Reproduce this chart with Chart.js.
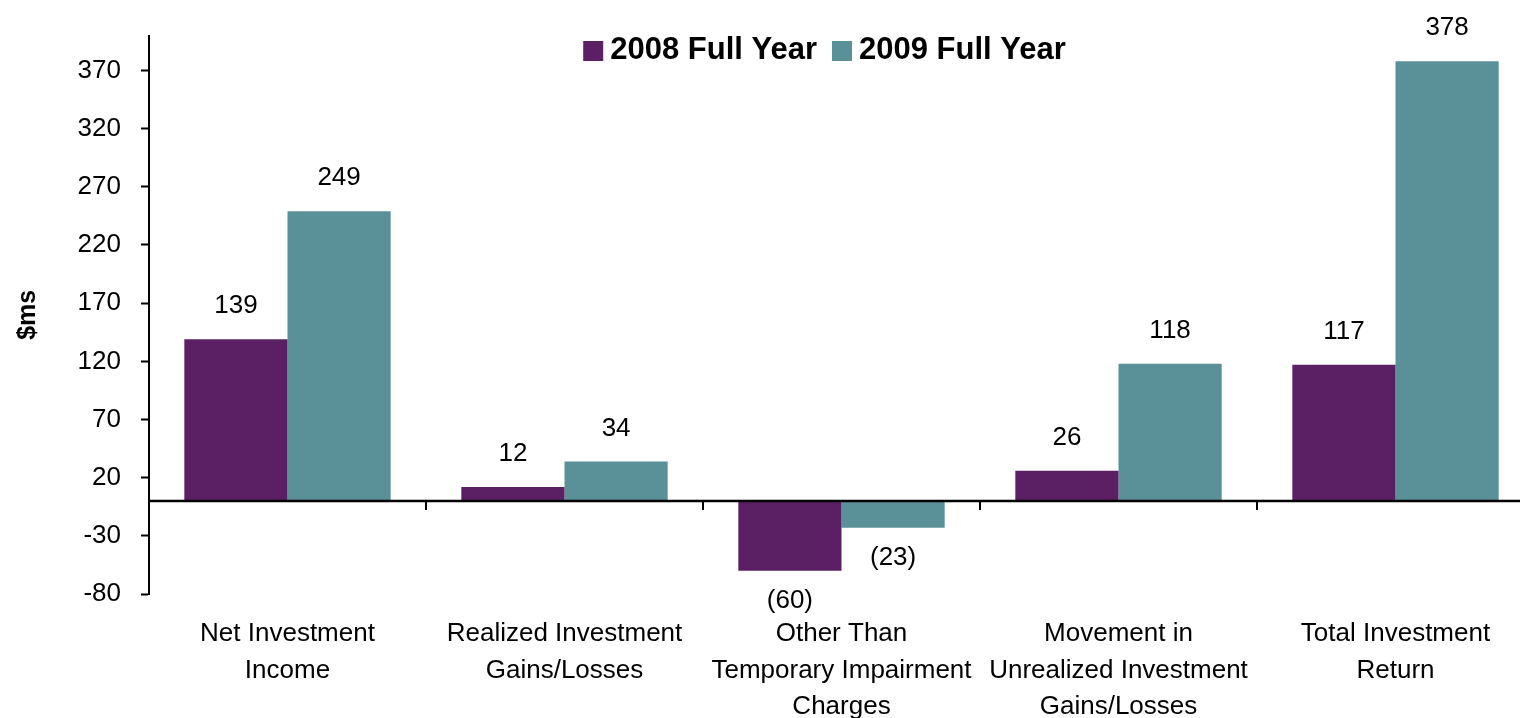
<!DOCTYPE html>
<html>
<head>
<meta charset="utf-8">
<script src="https://cdn.jsdelivr.net/npm/chart.js@4/dist/chart.umd.min.js"></script>
<style>
  html, body { margin: 0; padding: 0; background: #fff; overflow: hidden; }
  #wrap { position: absolute; left: 0; top: 0; width: 1540px; height: 724px; }
</style>
</head>
<body>
<div id="wrap"><canvas id="chart" width="1540" height="724"></canvas></div>
<script>
// chart data
const categories = [
  ["Net Investment", "Income"],
  ["Realized Investment", "Gains/Losses"],
  ["Other Than", "Temporary Impairment", "Charges"],
  ["Movement in", "Unrealized Investment", "Gains/Losses"],
  ["Total Investment", "Return"],
];
const seriesNames = ["2008 Full Year", "2009 Full Year"];
const values2008 = [139, 12, -60, 26, 117];
const values2009 = [249, 34, -23, 118, 378];
const yTicks = [-80, -30, 20, 70, 120, 170, 220, 270, 320, 370];

const PURPLE = "#5b1f64";
const TEAL = "#5a9199";
const FONT = "'Liberation Sans', Arial, sans-serif";

// zero line + category tick marks below it
const zeroAxis = {
  id: "zeroAxis",
  afterDatasetsDraw(chart) {
    const { ctx, chartArea, scales } = chart;
    const y0 = scales.y.getPixelForValue(0);
    ctx.save();
    ctx.strokeStyle = "#000";
    ctx.lineWidth = 2.5;
    ctx.beginPath();
    ctx.moveTo(chartArea.left, y0);
    ctx.lineTo(chart.width, y0);
    ctx.stroke();
    ctx.lineWidth = 2;
    for (let i = 0; i < categories.length - 1; i++) {
      const bx = (scales.x.getPixelForValue(i) + scales.x.getPixelForValue(i + 1)) / 2;
      ctx.beginPath();
      ctx.moveTo(bx, y0);
      ctx.lineTo(bx, y0 + 9);
      ctx.stroke();
    }
    ctx.restore();
  },
};

// value labels above / below the bars, negatives in brackets
const barValues = {
  id: "barValues",
  afterDatasetsDraw(chart) {
    const { ctx } = chart;
    ctx.save();
    ctx.font = "26px " + FONT;
    ctx.fillStyle = "#000";
    ctx.textAlign = "center";
    ctx.textBaseline = "middle";
    chart.data.datasets.forEach((ds, di) => {
      chart.getDatasetMeta(di).data.forEach((bar, i) => {
        const v = ds.data[i];
        const txt = v < 0 ? "(" + Math.abs(v) + ")" : String(v);
        const y = v < 0 ? bar.y + 30 : bar.y - 33;
        ctx.fillText(txt, bar.x, y);
      });
    });
    ctx.restore();
  },
};

// legend sitting inside the plot, near the top
const topLegend = {
  id: "topLegend",
  afterDraw(chart) {
    const { ctx, chartArea } = chart;
    ctx.save();
    ctx.font = "bold 31px " + FONT;
    const box = 20, gap = 7, between = 15;
    const items = chart.data.datasets.map(ds => ({
      text: ds.label, color: ds.backgroundColor, w: ctx.measureText(ds.label).width,
    }));
    const total = items.reduce((s, it) => s + box + gap + it.w, 0) + between * (items.length - 1);
    let x = (chartArea.left + chartArea.right) / 2 - 17 - total / 2;
    const base = 59;
    ctx.textBaseline = "alphabetic";
    items.forEach(it => {
      ctx.fillStyle = it.color;
      ctx.fillRect(x, base - 18, box, box);
      x += box + gap;
      ctx.fillStyle = "#000";
      ctx.fillText(it.text, x, base);
      x += it.w + between;
    });
    ctx.restore();
  },
};

new Chart(document.getElementById("chart"), {
  type: "bar",
  data: {
    labels: categories,
    datasets: [
      { label: seriesNames[0], data: values2008, backgroundColor: PURPLE },
      { label: seriesNames[1], data: values2009, backgroundColor: TEAL },
    ],
  },
  options: {
    responsive: false,
    animation: false,
    devicePixelRatio: 1,
    categoryPercentage: 0.745,
    barPercentage: 1,
    layout: { padding: { top: 33, right: 6, left: 0, bottom: 0 } },
    plugins: {
      legend: { display: false },
      tooltip: { enabled: false },
    },
    scales: {
      x: {
        grid: { display: false },
        border: { display: false },
        ticks: {
          color: "#000",
          font: { family: FONT, size: 26, lineHeight: 1.4 },
          padding: 14,
          maxRotation: 0,
          autoSkip: false,
        },
        afterFit(scale) { scale.height = 130; },
      },
      y: {
        min: -80,
        max: 400,
        afterBuildTicks(scale) { scale.ticks = yTicks.map(v => ({ value: v })); },
        grid: {
          drawOnChartArea: false,
          drawTicks: true,
          tickLength: 8,
          tickColor: "#000",
          tickWidth: 2,
        },
        border: { display: true, color: "#000", width: 2 },
        ticks: {
          color: "#000",
          font: { family: FONT, size: 26 },
          padding: 20,
        },
        title: {
          display: true,
          text: "$ms",
          color: "#000",
          font: { family: FONT, size: 25, weight: "bold" },
          padding: { top: 13, bottom: 0 },
        },
        afterFit(scale) { scale.width = 149; },
      },
    },
  },
  plugins: [zeroAxis, barValues, topLegend],
});
</script>
</body>
</html>
